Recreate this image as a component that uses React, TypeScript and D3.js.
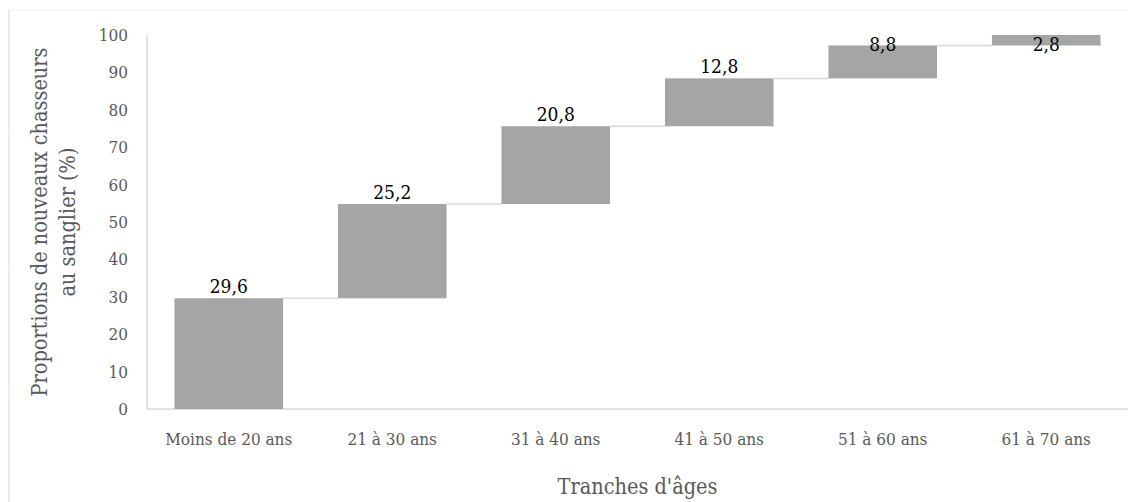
import React from "react";
import * as d3 from "d3";

const categories = ["Moins de 20 ans", "21 à 30 ans", "31 à 40 ans", "41 à 50 ans", "51 à 60 ans", "61 à 70 ans"];
const values = [29.6, 25.2, 20.8, 12.8, 8.8, 2.8];
const valueLabels = ["29,6", "25,2", "20,8", "12,8", "8,8", "2,8"];
const yTicks = [0, 10, 20, 30, 40, 50, 60, 70, 80, 90, 100];
const yTitleLines = ["Proportions de nouveaux chasseurs", "au sanglier (%)"];
const xTitle = "Tranches d'âges";

const W = 1132, H = 502;
const M = { left: 147, right: 1128, top: 35, bottom: 409 };
const FONT = "'DejaVu Serif Condensed', 'DejaVu Serif', serif";

export default function App() {
  const x = d3.scaleBand<string>().domain(categories).range([M.left, M.right]).paddingInner(0.336).paddingOuter(0.168);
  const y = d3.scaleLinear().domain([0, 100]).range([M.bottom, M.top]);
  let acc = 0;
  const bars = values.map((v, i) => {
    const start = acc;
    acc += v;
    return { cat: categories[i], start, end: acc, label: valueLabels[i] };
  });
  const bw = x.bandwidth();
  return (
    <svg width={W} height={H} style={{ position: "absolute", left: 0, top: 0, background: "#fff" }}>
      <line x1={9} x2={9} y1={10} y2={H} stroke="#d9d9d9" strokeWidth={1} />
      <line x1={9} x2={1128} y1={10} y2={10} stroke="#f0f0f0" strokeWidth={1} />
      <line x1={M.left} x2={M.left} y1={y(100)} y2={y(0)} stroke="#d9d9d9" strokeWidth={1.5} />
      <line x1={M.left} x2={M.right} y1={y(0)} y2={y(0)} stroke="#d9d9d9" strokeWidth={1.5} />
      {yTicks.map((t) => (
        <text key={t} x={128} y={y(t)} dy="0.35em" textAnchor="end" fontFamily={FONT} fontSize={17} fill="#595959">
          {t}
        </text>
      ))}
      {bars.slice(0, -1).map((b, i) => (
        <line key={"c" + i} x1={(x(b.cat) as number) + bw} x2={x(bars[i + 1].cat) as number} y1={y(b.end)} y2={y(b.end)} stroke="#d9d9d9" strokeWidth={1.5} />
      ))}
      {bars.map((b) => (
        <rect key={b.cat} x={x(b.cat)} y={y(b.end)} width={bw} height={y(b.start) - y(b.end)} fill="#a5a5a5" />
      ))}
      {bars.map((b) => (
        <text key={"l" + b.cat} x={(x(b.cat) as number) + bw / 2} y={Math.max(y(b.end) - 5, y(100) + 16)} textAnchor="middle" fontFamily={FONT} fontSize={19} fill="#000">
          {b.label}
        </text>
      ))}
      {categories.map((c) => (
        <text key={"x" + c} x={(x(c) as number) + bw / 2} y={445} textAnchor="middle" fontFamily={FONT} fontSize={17} fill="#595959">
          {c}
        </text>
      ))}
      <text x={(M.left + M.right) / 2} y={494} textAnchor="middle" fontFamily={FONT} fontSize={21.5} fill="#595959">
        {xTitle}
      </text>
      {yTitleLines.map((l, i) => (
        <text key={l} transform={`translate(${47 + i * 28},${222}) rotate(-90)`} textAnchor="middle" fontFamily={FONT} fontSize={21.5} fill="#595959">
          {l}
        </text>
      ))}
    </svg>
  );
}
